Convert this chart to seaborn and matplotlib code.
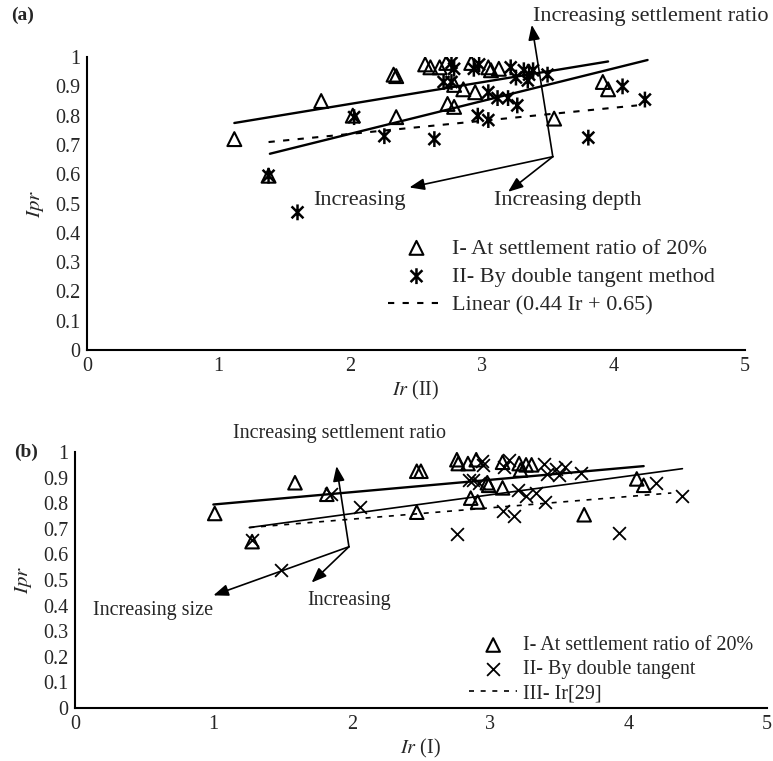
import matplotlib
matplotlib.use("Agg")
import matplotlib.pyplot as plt
import seaborn as sns
from matplotlib.path import Path

sns.set_style("white")
plt.rcParams['font.family'] = ['Liberation Serif', 'DejaVu Serif']
plt.rcParams['mathtext.fontset'] = 'stix'

# -------------------- data, panel (a) --------------------
a_tri_x = [1.12, 1.38, 1.78, 2.02, 2.33, 2.35, 2.35, 2.57, 2.61, 2.68, 2.73, 2.92, 3.05, 3.07,
           3.13, 2.79, 2.86, 2.95, 2.74, 2.79, 3.55, 3.92, 3.96]
a_tri_y = [0.72, 0.595, 0.85, 0.80, 0.94, 0.935, 0.795, 0.975, 0.965, 0.965, 0.98, 0.98, 0.965, 0.955,
           0.96, 0.905, 0.89, 0.88, 0.84, 0.83, 0.79, 0.915, 0.89]
a_ast_x = [1.38, 1.60, 2.03, 2.26, 2.64, 2.77, 2.79, 2.94, 2.98, 3.22, 3.26, 3.32, 3.36, 3.39,
           3.35, 3.50, 2.71, 2.77, 3.05, 3.12, 3.20, 3.27, 2.97, 3.05, 3.81, 4.07, 4.24]
a_ast_y = [0.595, 0.47, 0.795, 0.73, 0.72, 0.98, 0.96, 0.96, 0.975, 0.965, 0.93, 0.955, 0.94, 0.955,
           0.92, 0.94, 0.915, 0.915, 0.88, 0.86, 0.86, 0.835, 0.80, 0.785, 0.725, 0.90, 0.855]
a_fit1_x = [1.12, 3.96]
a_fit1_y = [0.775, 0.985]
a_fit2_x = [1.39, 4.26]
a_fit2_y = [0.67, 0.99]
a_lin_x = [1.38, 4.18]
a_lin_y = [0.71, 0.835]

# -------------------- data, panel (b) --------------------
b_tri_x = [1.01, 1.28, 1.59, 1.82, 2.47, 2.50, 2.47, 2.76, 2.77, 2.84, 2.90, 3.09, 3.21, 3.22,
           3.26, 3.30, 2.98, 2.99, 3.09, 2.86, 2.91, 3.68, 4.06, 4.11]
b_tri_y = [0.76, 0.65, 0.88, 0.835, 0.925, 0.925, 0.765, 0.97, 0.955, 0.955, 0.97, 0.96, 0.955, 0.93,
           0.95, 0.95, 0.88, 0.87, 0.86, 0.82, 0.805, 0.755, 0.895, 0.87]
b_x_x = [1.28, 1.49, 1.85, 2.06, 2.76, 2.94, 2.95, 3.10, 3.14, 3.39, 3.41, 3.48, 3.50, 3.54,
         3.66, 2.85, 2.88, 2.92, 3.20, 3.26, 3.33, 3.40, 3.09, 3.17, 3.93, 4.20, 4.39]
b_x_y = [0.655, 0.54, 0.835, 0.785, 0.68, 0.965, 0.95, 0.94, 0.97, 0.955, 0.915, 0.935, 0.91, 0.94,
         0.92, 0.89, 0.89, 0.88, 0.85, 0.83, 0.84, 0.805, 0.77, 0.75, 0.685, 0.88, 0.83]
b_fit1_x = [1.00, 4.11]
b_fit1_y = [0.795, 0.945]
b_fit2_x = [1.26, 4.39]
b_fit2_y = [0.705, 0.935]
b_lin_x = [1.26, 4.31]
b_lin_y = [0.705, 0.84]

y_ticks = [0, 0.1, 0.2, 0.3, 0.4, 0.5, 0.6, 0.7, 0.8, 0.9, 1]
y_labels = ['0', '0.1', '0.2', '0.3', '0.4', '0.5', '0.6', '0.7', '0.8', '0.9', '1']
x_ticks = [0, 1, 2, 3, 4, 5]

# asterisk marker: vertical bar + X
ast = Path([(0, -1), (0, 1), (-0.75, -0.75), (0.75, 0.75), (-0.75, 0.75), (0.75, -0.75)],
           [Path.MOVETO, Path.LINETO, Path.MOVETO, Path.LINETO, Path.MOVETO, Path.LINETO])

fig = plt.figure(figsize=(7.73, 7.61), dpi=100)
ax1 = fig.add_axes([0.1125, 0.540, 0.8512, 0.385])
ax2 = fig.add_axes([0.097, 0.0696, 0.895, 0.3364])

arrow = dict(arrowstyle='-|>,head_length=0.9,head_width=0.35', color='black', lw=1.2,
             shrinkA=0, shrinkB=0)


def style_axes(ax, xlabel):
    ax.set_xlim(0, 5)
    ax.set_ylim(0, 1)
    ax.set_xticks(x_ticks)
    ax.set_yticks(y_ticks)
    ax.set_yticklabels(y_labels)
    ax.tick_params(direction='in', length=6, width=1.2, labelsize=14.5, pad=5)
    sns.despine(ax=ax)
    for s in ['left', 'bottom']:
        ax.spines[s].set_linewidth(1.5)
        ax.spines[s].set_color('black')
    ax.set_xlabel(xlabel, fontsize=14.5, labelpad=2)
    ax.set_ylabel(r'$\it{Ipr}$', fontsize=15, labelpad=6)


# -------------------- panel (a) --------------------
sns.scatterplot(x=a_tri_x, y=a_tri_y, ax=ax1, marker='^', s=100, facecolor='none',
                edgecolor='black', linewidth=1.5, label='I- At settlement ratio of 20%', zorder=3)
sns.scatterplot(x=a_ast_x, y=a_ast_y, ax=ax1, marker=ast, s=130, facecolor='none',
                edgecolor='black', linewidth=1.8, label='II- By double tangent method', zorder=3)
sns.lineplot(x=a_fit1_x, y=a_fit1_y, ax=ax1, color='black', lw=1.7)
sns.lineplot(x=a_fit2_x, y=a_fit2_y, ax=ax1, color='black', lw=1.7)
sns.lineplot(x=a_lin_x, y=a_lin_y, ax=ax1, color='black', lw=1.5, ls=(0, (3, 4)),
             label='Linear (0.44 Ir + 0.65)')
style_axes(ax1, r'$\it{Ir}$ (II)')
ax1.legend(loc='upper left', bbox_to_anchor=(0.44, 0.42), frameon=False, fontsize=16,
           handlelength=2.6, handletextpad=0.3, labelspacing=0.35, borderpad=0)

ax1.annotate('', xy=(3.38, 1.11), xytext=(3.54, 0.66), arrowprops=arrow, annotation_clip=False)
ax1.annotate('', xy=(2.45, 0.555), xytext=(3.54, 0.66), arrowprops=arrow)
ax1.annotate('', xy=(3.20, 0.54), xytext=(3.54, 0.66), arrowprops=arrow)
ax1.text(3.39, 1.137, 'Increasing settlement ratio', fontsize=16, ha='left', va='center', clip_on=False)
ax1.text(2.07, 0.51, 'Increasing', fontsize=16, ha='center', va='center')
ax1.text(3.65, 0.51, 'Increasing depth', fontsize=16, ha='center', va='center')
fig.text(0.015, 0.98, '(a)', fontsize=14, fontweight='bold', va='center')

# -------------------- panel (b) --------------------
sns.scatterplot(x=b_tri_x, y=b_tri_y, ax=ax2, marker='^', s=95, facecolor='none',
                edgecolor='black', linewidth=1.5, label='I- At settlement ratio of 20%', zorder=3)
sns.scatterplot(x=b_x_x, y=b_x_y, ax=ax2, marker='x', s=85, color='black',
                linewidth=1.3, label='II- By double tangent', zorder=3)
sns.lineplot(x=b_fit1_x, y=b_fit1_y, ax=ax2, color='black', lw=1.7)
sns.lineplot(x=b_fit2_x, y=b_fit2_y, ax=ax2, color='black', lw=1.2)
sns.lineplot(x=b_lin_x, y=b_lin_y, ax=ax2, color='black', lw=1.2, ls=(0, (3, 4)),
             label='III- Ir[29]')
style_axes(ax2, r'$\it{Ir}$ (I)')
ax2.legend(loc='upper left', bbox_to_anchor=(0.555, 0.32), frameon=False, fontsize=14.5,
           handlelength=2.4, handletextpad=0.3, labelspacing=0.25, borderpad=0)

ax2.annotate('', xy=(1.89, 0.945), xytext=(1.98, 0.63), arrowprops=arrow)
ax2.annotate('', xy=(1.00, 0.44), xytext=(1.98, 0.63), arrowprops=arrow)
ax2.annotate('', xy=(1.71, 0.49), xytext=(1.98, 0.63), arrowprops=arrow)
ax2.text(1.14, 1.073, 'Increasing settlement ratio', fontsize=14.5, ha='left', va='center', clip_on=False)
ax2.text(0.13, 0.38, 'Increasing size', fontsize=14.5, ha='left', va='center')
ax2.text(1.68, 0.42, 'Increasing', fontsize=14.5, ha='left', va='center')
fig.text(0.018, 0.406, '(b)', fontsize=14, fontweight='bold', va='center')

plt.savefig('out.png', dpi=100)
